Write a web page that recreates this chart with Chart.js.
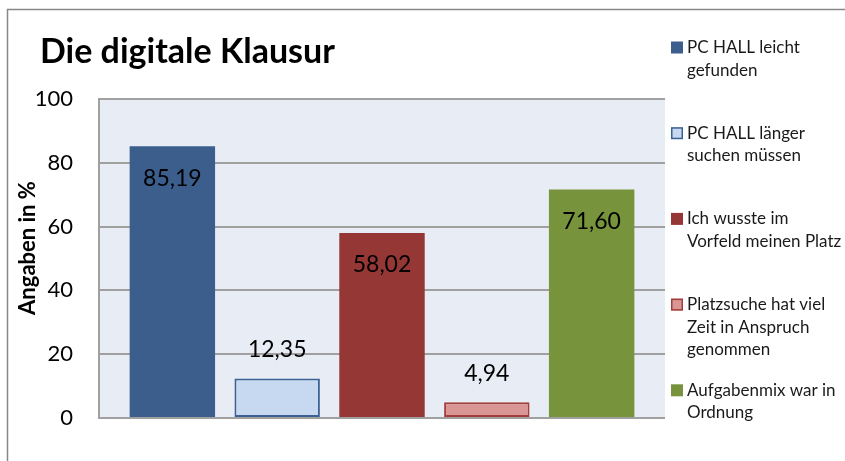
<!DOCTYPE html>
<html lang="de">
<head>
<meta charset="UTF-8">
<title>Die digitale Klausur</title>
<script src="https://cdn.jsdelivr.net/npm/chart.js"></script>
<style>
  html, body { margin: 0; padding: 0; background: #fff; overflow: hidden; }
  #chart { display: block; }
</style>
</head>
<body>
<canvas id="chart" width="845" height="461"></canvas>
<script>
// Werte aus der Grafik
const chartTitle = 'Die digitale Klausur';
const axisTitle = 'Angaben in %';
const seriesLabels = [
  ['PC HALL leicht', 'gefunden'],
  ['PC HALL länger', 'suchen müssen'],
  ['Ich wusste im', 'Vorfeld meinen Platz'],
  ['Platzsuche hat viel', 'Zeit in Anspruch', 'genommen'],
  ['Aufgabenmix war in', 'Ordnung']
];
const seriesValues = [85.19, 12.35, 58.02, 4.94, 71.60];
const fillColors = ['#3b5e8c', '#c6d9f0', '#953735', '#d99694', '#77933c'];
const edgeColors = ['#3b5e8c', '#3d6192', '#953735', '#a23e3b', '#77933c'];
const yTicks = [0, 20, 40, 60, 80, 100];

const FONT = 'Lato, "Open Sans", sans-serif';

const datasets = seriesValues.map((v, i) => ({
  label: seriesLabels[i].join(' '),
  data: [v],
  backgroundColor: fillColors[i],
  borderColor: edgeColors[i],
  borderWidth: (i === 1 || i === 3) ? 2 : 0,
  borderSkipped: false,
  barPercentage: 0.815,
  categoryPercentage: 0.926
}));

// Rahmen, Plotflaeche, Titel, Achsentitel
const backdrop = {
  id: 'backdrop',
  beforeDraw(chart) {
    const { ctx, chartArea: a } = chart;
    ctx.save();
    ctx.fillStyle = '#e8ecf4';
    ctx.fillRect(a.left, a.top, a.right - a.left, a.bottom - a.top);
    ctx.strokeStyle = '#888';
    ctx.lineWidth = 1.5;
    ctx.beginPath();
    ctx.moveTo(7.5, 461);
    ctx.lineTo(7.5, 9.5);
    ctx.lineTo(845, 9.5);
    ctx.stroke();
    ctx.fillStyle = '#000';
    ctx.font = 'bold 34px ' + FONT;
    ctx.textBaseline = 'alphabetic';
    ctx.textAlign = 'left';
    ctx.fillText(chartTitle, 40, 63);
    // Achsentitel, gedreht
    ctx.translate(28, 248);
    ctx.rotate(-Math.PI / 2);
    ctx.font = 'bold 22px ' + FONT;
    ctx.textAlign = 'center';
    ctx.textBaseline = 'middle';
    ctx.fillText(axisTitle, 0, 0);
    ctx.restore();
  }
};

// Datenbeschriftungen
const valueLabels = {
  id: 'valueLabels',
  afterDatasetsDraw(chart) {
    const { ctx } = chart;
    ctx.save();
    ctx.font = '23px ' + FONT;
    ctx.fillStyle = '#000';
    ctx.textAlign = 'center';
    ctx.textBaseline = 'middle';
    chart.data.datasets.forEach((ds, i) => {
      const bar = chart.getDatasetMeta(i).data[0];
      const v = ds.data[0];
      const y = v > 30 ? bar.y + 32 : bar.y - 29;
      ctx.fillText(v.toFixed(2).replace('.', ','), bar.x, y);
    });
    ctx.restore();
  }
};

// Legende rechts, mehrzeilig
const sideLegend = {
  id: 'sideLegend',
  afterDraw(chart) {
    const { ctx } = chart;
    ctx.save();
    ctx.font = '17px ' + FONT;
    ctx.textAlign = 'left';
    ctx.textBaseline = 'middle';
    chart.data.datasets.forEach((ds, i) => {
      const y0 = 47.5 + i * 85.7;
      ctx.fillStyle = ds.backgroundColor;
      ctx.fillRect(671, y0 - 6, 12, 12);
      if (ds.borderWidth) {
        ctx.strokeStyle = ds.borderColor;
        ctx.lineWidth = 1.5;
        ctx.strokeRect(671.75, y0 - 5.25, 10.5, 10.5);
      }
      ctx.fillStyle = '#1a1a1a';
      seriesLabels[i].forEach((line, j) => {
        ctx.fillText(line, 687, y0 + j * 22.6);
      });
    });
    ctx.restore();
  }
};

new Chart(document.getElementById('chart'), {
  type: 'bar',
  data: { labels: [''], datasets: datasets },
  options: {
    responsive: false,
    animation: false,
    layout: { padding: { left: 0, top: 99, right: 180, bottom: 43 } },
    plugins: {
      legend: { display: false },
      tooltip: { enabled: false },
      title: { display: false }
    },
    scales: {
      x: { display: false },
      y: {
        min: 0,
        max: 100,
        afterBuildTicks(scale) { scale.ticks = yTicks.map(v => ({ value: v })); },
        afterFit(scale) { scale.width = 99; },
        ticks: {
          padding: 26,
          color: '#000',
          font: { family: FONT, size: 22 }
        },
        grid: { color: '#a0a0a0', lineWidth: 2, drawTicks: false },
        border: { display: true, color: '#a0a0a0', width: 2 }
      }
    }
  },
  plugins: [backdrop, valueLabels, sideLegend]
});
</script>
</body>
</html>
